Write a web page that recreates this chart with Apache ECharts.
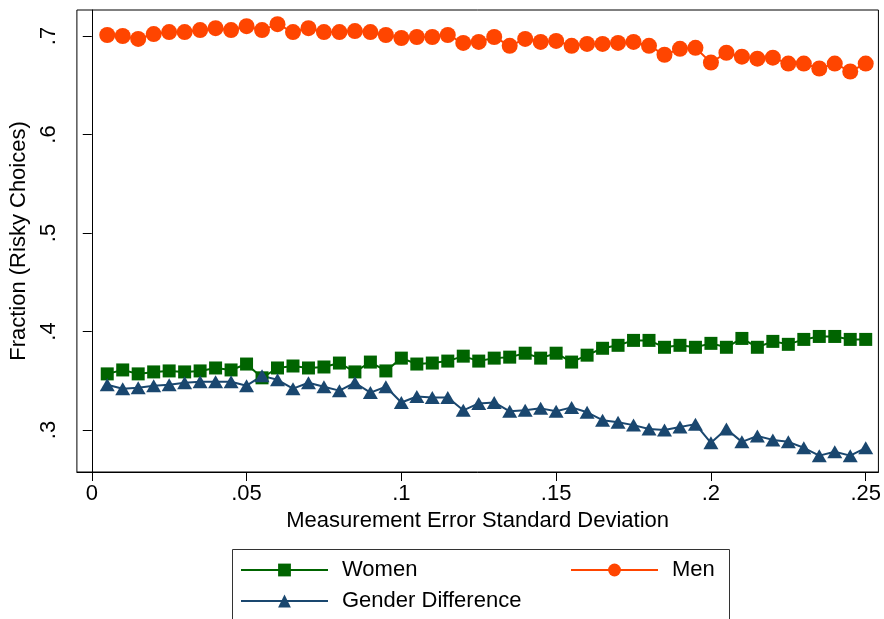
<!DOCTYPE html>
<html>
<head>
<meta charset="utf-8">
<script src="https://cdn.jsdelivr.net/npm/echarts@6/dist/echarts.min.js"></script>
<style>
html,body{margin:0;padding:0;background:#fff;}
#chart{width:884px;height:619px;}
</style>
</head>
<body>
<div id="chart"></div>
<script>
const xValues = [0.005,0.010,0.015,0.020,0.025,0.030,0.035,0.040,0.045,0.050,
  0.055,0.060,0.065,0.070,0.075,0.080,0.085,0.090,0.095,0.100,
  0.105,0.110,0.115,0.120,0.125,0.130,0.135,0.140,0.145,0.150,
  0.155,0.160,0.165,0.170,0.175,0.180,0.185,0.190,0.195,0.200,
  0.205,0.210,0.215,0.220,0.225,0.230,0.235,0.240,0.245,0.250];
const women = [0.357,0.361,0.357,0.359,0.360,0.359,0.360,0.363,0.361,0.367,
  0.353,0.363,0.365,0.363,0.364,0.368,0.359,0.369,0.360,0.373,
  0.367,0.368,0.370,0.375,0.370,0.373,0.374,0.378,0.373,0.378,
  0.369,0.376,0.383,0.386,0.391,0.391,0.384,0.386,0.384,0.388,
  0.384,0.393,0.384,0.390,0.387,0.392,0.395,0.395,0.392,0.392];
const men = [0.701,0.700,0.697,0.702,0.704,0.704,0.706,0.708,0.706,0.710,
  0.706,0.712,0.704,0.708,0.704,0.704,0.705,0.704,0.701,0.698,
  0.699,0.699,0.701,0.693,0.694,0.699,0.690,0.697,0.694,0.695,
  0.690,0.692,0.692,0.693,0.694,0.690,0.681,0.687,0.688,0.673,
  0.683,0.679,0.677,0.678,0.672,0.672,0.667,0.672,0.664,0.672];
const genderDiff = [0.346,0.342,0.343,0.345,0.346,0.348,0.349,0.349,0.349,0.345,
  0.355,0.351,0.342,0.348,0.344,0.340,0.348,0.338,0.344,0.328,
  0.334,0.333,0.333,0.320,0.327,0.328,0.319,0.320,0.322,0.319,
  0.323,0.318,0.310,0.308,0.305,0.301,0.300,0.303,0.306,0.287,
  0.301,0.288,0.294,0.290,0.288,0.282,0.274,0.278,0.274,0.282];
const xTicks = [0, 0.05, 0.1, 0.15, 0.2, 0.25];
const yTicks = [0.3, 0.4, 0.5, 0.6, 0.7];

const FONT = '"Liberation Sans", Arial, Helvetica, sans-serif';
const fmt = v => (Math.abs(v) < 1e-9 ? '0' : String(+v.toFixed(3)).replace(/^0/, ''));
const pairs = arr => arr.map((y, i) => [xValues[i], y]);

const colWomen = '#006400', colMen = '#FF4500', colDiff = '#1A476F';

const chart = echarts.init(document.getElementById('chart'));
const legendBase = {
  orient: 'horizontal',
  itemWidth: 87,
  itemHeight: 16,
  itemGap: 0,
  padding: 0,
  selectedMode: false,
  textStyle: { fontFamily: FONT, fontSize: 22, color: '#000', padding: [0, 0, 0, 9] }
};
chart.setOption({
  animation: false,
  backgroundColor: '#fff',
  grid: { left: 76, top: 10, right: 5, bottom: 147, show: true, borderColor: '#000', borderWidth: 1 },
  xAxis: {
    type: 'value', min: -0.0048, max: 0.2541,
    name: 'Measurement Error Standard Deviation',
    nameLocation: 'middle', nameGap: 31,
    nameTextStyle: { fontFamily: FONT, fontSize: 22, color: '#000' },
    axisLine: { show: true, lineStyle: { color: '#000', width: 1 } },
    axisTick: { show: true, length: 9, customValues: xTicks, lineStyle: { color: '#000' } },
    axisLabel: { customValues: xTicks, formatter: fmt, margin: 11, fontFamily: FONT, fontSize: 22, color: '#000' },
    splitLine: { show: false }
  },
  yAxis: {
    type: 'value', min: 0.2574, max: 0.7264,
    name: 'Fraction (Risky Choices)',
    nameLocation: 'middle', nameGap: 43,
    nameTextStyle: { fontFamily: FONT, fontSize: 22, color: '#000' },
    axisLine: { show: true, lineStyle: { color: '#000', width: 1 } },
    axisTick: { show: true, length: 9, customValues: yTicks, lineStyle: { color: '#000' } },
    axisLabel: { customValues: yTicks, formatter: fmt, rotate: 90, margin: 17, fontFamily: FONT, fontSize: 22, color: '#000' },
    splitLine: { show: false }
  },
  legend: [
    Object.assign({}, legendBase, { data: ['Women'], left: 240, top: 559 }),
    Object.assign({}, legendBase, { data: ['Men'], left: 570, top: 559 }),
    Object.assign({}, legendBase, { data: ['Gender Difference'], left: 240, top: 590 })
  ],
  graphic: [{
    type: 'rect', left: 230, top: 547,
    shape: { width: 497, height: 100 },
    style: { fill: 'none', stroke: '#333', lineWidth: 1 }, z: 100
  }],
  series: [
    { name: 'Women', type: 'line', data: pairs(women), symbol: 'rect', symbolSize: 13,
      itemStyle: { color: colWomen }, lineStyle: { color: colWomen, width: 2 } },
    { name: 'Men', type: 'line', data: pairs(men), symbol: 'circle', symbolSize: 16,
      itemStyle: { color: colMen }, lineStyle: { color: colMen, width: 2 } },
    { name: 'Gender Difference', type: 'line', data: pairs(genderDiff), symbol: 'triangle', symbolSize: [15, 13],
      itemStyle: { color: colDiff }, lineStyle: { color: colDiff, width: 2 } }
  ]
});
</script>
</body>
</html>
